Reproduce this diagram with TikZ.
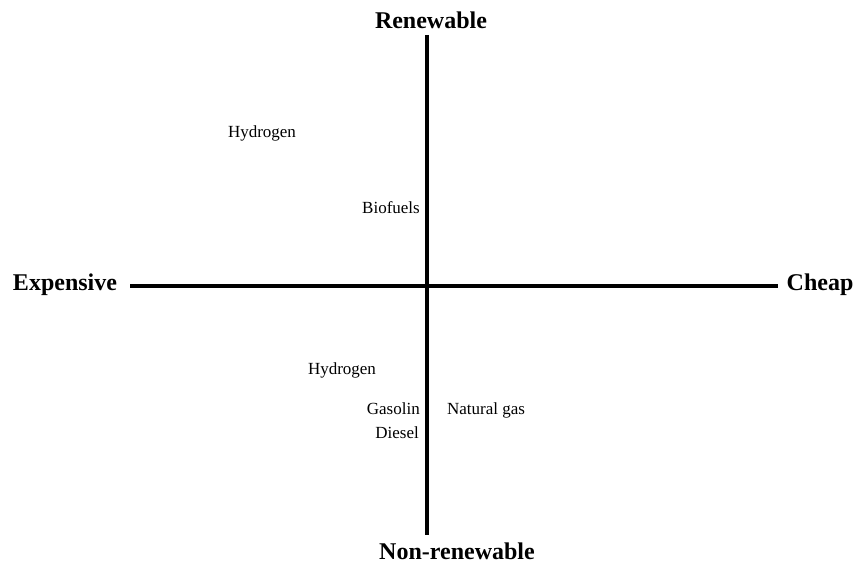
\documentclass[tikz,border=0pt]{standalone}
\usepackage{fontspec}
\setmainfont{Liberation Serif}
\usetikzlibrary{positioning}

\begin{document}
\begin{tikzpicture}[x=1pt,y=-1pt,
      axislabel/.style={inner sep=0pt,font=\fontsize{24}{26}\selectfont\bfseries},
      fuel/.style={inner sep=0pt,font=\fontsize{17}{19}\selectfont},
      axis/.style={line width=3.6pt}]
    \useasboundingbox (0,0) rectangle (861,564);
    \coordinate (top) at (427,35);
    \coordinate (bot) at (427,535);
    \coordinate (lft) at (130,286);
    \coordinate (rgt) at (778,286);
    \node[axislabel] (ren) at (431,20) {Renewable};
    \node[axislabel] (nonren) at (457,551) {Non-renewable};
    \node[axislabel] (exp) at (65,285) {Expensive};
    \node[axislabel] (cheap) at (820,285) {Cheap};
    \node[fuel] (hyup) at (262,133) {Hydrogen};
    \node[fuel,anchor=east] (bio) at (420,208) {Biofuels};
    \node[fuel] (hylow) at (342,370) {Hydrogen};
    \node[fuel,anchor=east] (gas) at (420,409) {Gasolin};
    \node[fuel,anchor=east] (diesel) at (419,433) {Diesel};
    \node[fuel] (ngas) at (486,410) {Natural gas};
    \draw[axis] (top)--(bot);
    \draw[axis] (lft)--(rgt);
  \end{tikzpicture}
\end{document}
